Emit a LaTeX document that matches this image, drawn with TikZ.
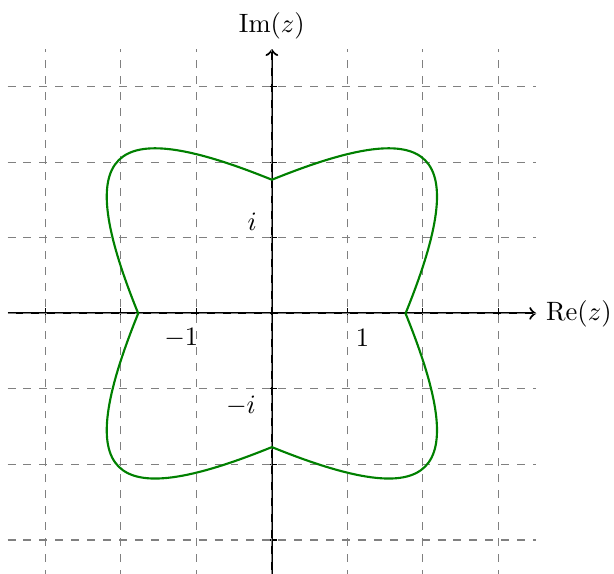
\documentclass[tikz,border=0pt]{standalone}
\begin{document}
\begin{tikzpicture}
  \useasboundingbox (-3.6,-3.44) rectangle (4.53,4.15);

  % Eksenler
  \coordinate (X1) at (-3.5,0);
  \coordinate (X2) at (3.5,0);
  \coordinate (Y1) at (0,-3.5);
  \coordinate (Y2) at (0,3.5);

  \draw[thick, ->] (X1) -- (X2) node[right] (re) {$\mathrm{Re}(z)$};
  \draw[thick, ->] (Y1) -- (Y2) node[above] (im) {$\mathrm{Im}(z)$};

  % Çentikler
  \foreach \k in {-3,...,3} {
    \draw (\k,-2pt) -- (\k,2pt);
    \draw (-2pt,\k) -- (2pt,\k);
  }

  % Izgara
  \draw[dashed, gray] (-3.5,-3.5) grid (3.5,3.5);

  % Eğrinin köşe noktaları
  \coordinate (E) at (1.77,0);
  \coordinate (N) at (0,1.77);
  \coordinate (W) at (-1.77,0);
  \coordinate (S) at (0,-1.77);

  % Eğri
  \draw[thick, green!50!black] (E)
    .. controls (2.65,2.17) and (2.17,2.65) .. (N)
    .. controls (-2.17,2.65) and (-2.65,2.17) .. (W)
    .. controls (-2.65,-2.17) and (-2.17,-2.65) .. (S)
    .. controls (2.17,-2.65) and (2.65,-2.17) .. (E) -- cycle;

  % Etiketler
  \node (one) at (1.2,-0.33) {$1$};
  \node (mone) at (-1.2,-0.33) {$-1$};
  \node (ii) at (-0.26,1.22) {$i$};
  \node (mii) at (-0.41,-1.22) {$-i$};
\end{tikzpicture}
\end{document}
